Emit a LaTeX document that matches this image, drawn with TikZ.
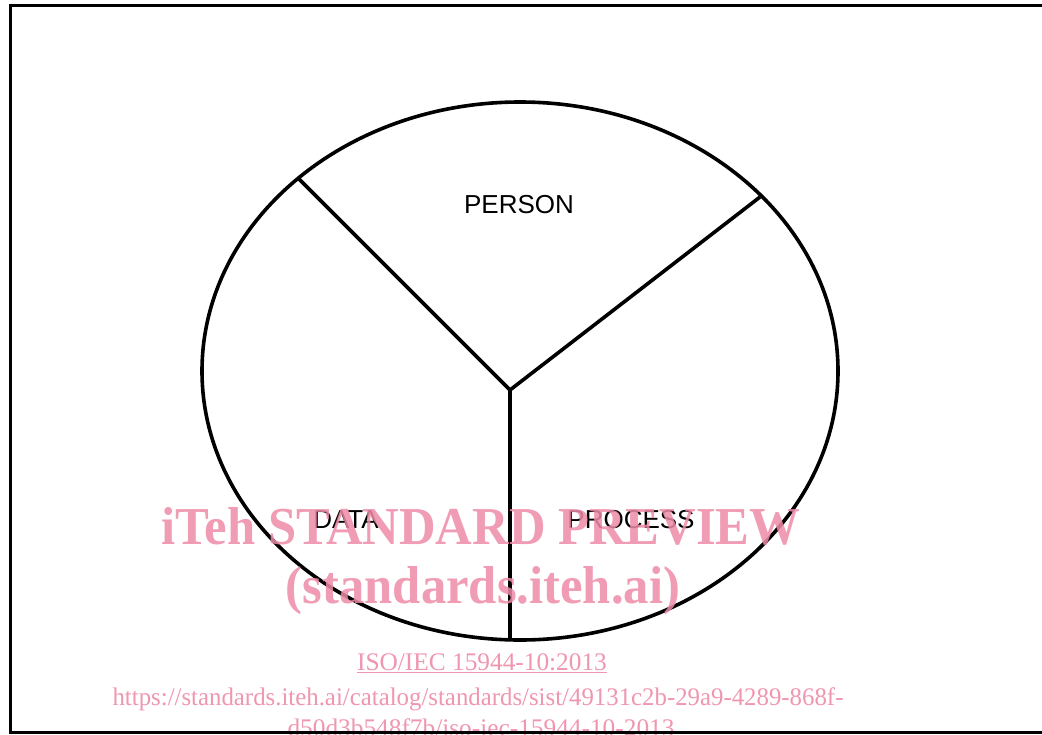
\documentclass[tikz,border=0pt]{standalone}
\usepackage{fontspec}
\setmainfont{Liberation Serif}
\newfontfamily\arialfont{Liberation Sans}
\definecolor{wmpink}{RGB}{238,139,168}
\begin{document}
\begin{tikzpicture}[x=0.75pt,y=-0.75pt,
  thick line/.style={line width=2.7pt},
  label/.style={font=\arialfont\fontsize{19.5pt}{22pt}\selectfont, anchor=base, inner sep=0pt},
  wmbig/.style={font=\bfseries\fontsize{40pt}{44pt}\selectfont, text=wmpink, text opacity=0.85, anchor=base, inner sep=0pt},
  wmsmall/.style={font=\fontsize{19pt}{22pt}\selectfont, text=wmpink, text opacity=0.9, anchor=base, inner sep=0pt}]
\useasboundingbox (0,0) rectangle (1042,735);
\clip (0,0) rectangle (1042,735);
\fill[white] (0,0) rectangle (1042,735);
% diagram
\draw[thick line] (520,371) ellipse [x radius=318, y radius=269];
\coordinate (c) at (510,390);
\coordinate (ul) at (298,178);
\coordinate (ur) at (760,197);
\coordinate (bt) at (510,640);
\draw[thick line] (c) -- (ul);
\draw[thick line] (c) -- (ur);
\draw[thick line] (c) -- (bt);
\node[label] (person) at (519,213) {PERSON};
\node[label] (data) at (346,528) {DATA};
\node[label] (process) at (631,528) {PROCESS};
% watermark
\node[wmbig] (wm1) at (481,544) {\scalebox{0.95}[1]{iTeh STANDARD PREVIEW}};
\node[wmbig] (wm2) at (483,603) {\scalebox{0.95}[1]{(standards.iteh.ai)}};
\node[wmsmall] (wm3) at (482,670) {\underline{ISO/IEC 15944-10:2013}};
\node[wmsmall] (wm4) at (478,705) {\scalebox{0.98}[1]{https://standards.iteh.ai/catalog/standards/sist/49131c2b-29a9-4289-868f-}};
\node[wmsmall] (wm5) at (481,736) {d50d3b548f7b/iso-iec-15944-10-2013};
% frame
\draw[line width=2.25pt] (1060,5.5) -- (10.5,5.5) -- (10.5,732.5) -- (1060,732.5);
\end{tikzpicture}
\end{document}
